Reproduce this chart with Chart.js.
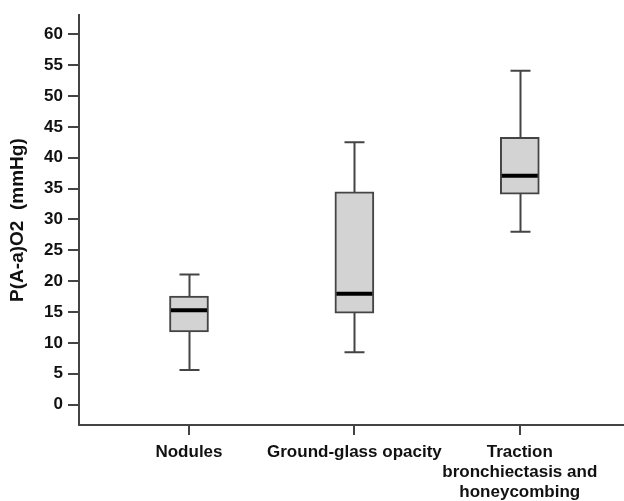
<!DOCTYPE html>
<html>
<head>
<meta charset="utf-8">
<script src="https://cdn.jsdelivr.net/npm/chart.js@4/dist/chart.umd.min.js"></script>
<style>
  html, body { margin: 0; padding: 0; background: #fff; }
  #wrap { width: 624px; height: 501px; }
</style>
</head>
<body>
<div id="wrap"><canvas id="c" width="624" height="501"></canvas></div>
<script>
const categories = ['Nodules', 'Ground-glass opacity', ['Traction', 'bronchiectasis and', 'honeycombing']];
const whiskerLow = [5.6, 8.5, 28.0];
const q1 = [11.8, 14.8, 34.1];
const median = [15.3, 17.95, 37.1];
const q3 = [17.6, 34.5, 43.3];
const whiskerHigh = [21.1, 42.5, 54.1];
const yTicks = [0, 5, 10, 15, 20, 25, 30, 35, 40, 45, 50, 55, 60];
const xPositions = [1, 2, 3];

const FONT = "'Liberation Sans', Arial, sans-serif";
const INK = '#444444';

const boxPlugin = {
  id: 'boxParts',
  beforeDatasetsDraw(chart) {
    const {ctx, scales: {x, y}} = chart;
    ctx.save();
    ctx.strokeStyle = INK;
    ctx.lineWidth = 2;
    xPositions.forEach((xv, i) => {
      const px = Math.round(x.getPixelForValue(xv)) + 0.5;
      const yl = y.getPixelForValue(whiskerLow[i]);
      const yh = y.getPixelForValue(whiskerHigh[i]);
      ctx.beginPath();
      ctx.moveTo(px, yl); ctx.lineTo(px, yh);
      ctx.moveTo(px - 10, yl); ctx.lineTo(px + 10, yl);
      ctx.moveTo(px - 10, yh); ctx.lineTo(px + 10, yh);
      ctx.stroke();
    });
    ctx.restore();
  },
  afterDatasetsDraw(chart) {
    const {ctx, scales: {x, y}} = chart;
    ctx.save();
    ctx.strokeStyle = '#000';
    ctx.lineWidth = 4;
    xPositions.forEach((xv, i) => {
      const px = x.getPixelForValue(xv);
      const ym = y.getPixelForValue(median[i]);
      ctx.beginPath();
      ctx.moveTo(px - 18, ym); ctx.lineTo(px + 18, ym);
      ctx.stroke();
    });
    ctx.restore();
  }
};

new Chart(document.getElementById('c'), {
  type: 'bar',
  data: {
    datasets: [{
      data: xPositions.map((xv, i) => ({x: xv, y: [q1[i], q3[i]]})),
      backgroundColor: '#d3d3d3',
      borderColor: INK,
      borderWidth: 2,
      borderSkipped: false,
      barThickness: 39
    }]
  },
  plugins: [boxPlugin],
  options: {
    responsive: false,
    animation: false,
    layout: { padding: { top: 13, left: 0, right: 0, bottom: 0 } },
    plugins: { legend: { display: false }, tooltip: { enabled: false } },
    scales: {
      x: {
        type: 'linear',
        offset: false,
        min: 0.335,
        max: 3.63,
        afterBuildTicks(scale) { scale.ticks = xPositions.map(v => ({value: v})); },
        afterFit(scale) { scale.height = 76; },
        ticks: {
          autoSkip: false,
          maxRotation: 0,
          padding: 8,
          color: '#111',
          font: { family: FONT, size: 17, weight: 'bold', lineHeight: 1.15 },
          callback: (v) => categories[Math.round(v) - 1]
        },
        grid: { offset: false, drawOnChartArea: false, drawTicks: true, tickLength: 10, color: INK, lineWidth: 2 },
        border: { display: true, color: INK, width: 2 }
      },
      y: {
        min: -3.3,
        max: 63.1,
        afterBuildTicks(scale) { scale.ticks = yTicks.map(v => ({value: v})); },
        afterFit(scale) { scale.width = 79; },
        ticks: {
          padding: 5,
          color: '#111',
          font: { family: FONT, size: 17, weight: 'bold' }
        },
        grid: { drawOnChartArea: false, drawTicks: true, tickLength: 11, color: INK, lineWidth: 2 },
        border: { display: true, color: INK, width: 2 },
        title: {
          display: true,
          text: 'P(A-a)O2  (mmHg)',
          color: '#111',
          font: { family: FONT, size: 19, weight: 'bold' },
          padding: { top: 6, bottom: 0 }
        }
      }
    }
  }
});
</script>
</body>
</html>
